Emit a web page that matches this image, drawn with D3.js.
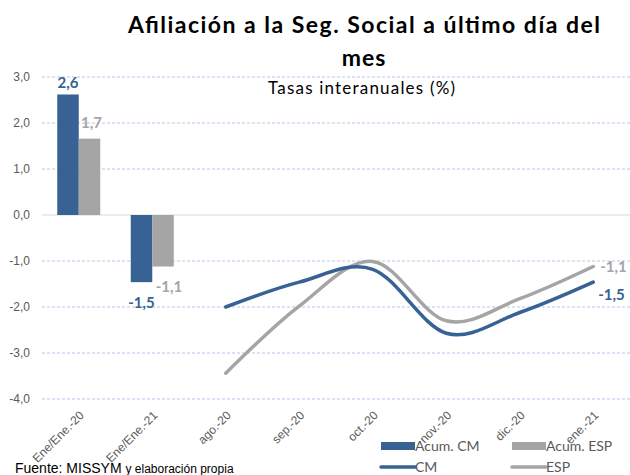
<!DOCTYPE html>
<html><head><meta charset="utf-8">
<script src="https://cdn.jsdelivr.net/npm/d3@7"></script>
<style>body{margin:0;background:#fff}svg{display:block}</style>
</head><body>
<svg id="c" width="630" height="475"></svg>
<script>
const categories = ["Ene/Ene.-20","Ene/Ene.-21","ago.-20","sep.-20","oct.-20","nov.-20","dic.-20","ene.-21"];
const barCats = ["Ene/Ene.-20","Ene/Ene.-21"];
const acumCM = [2.62, -1.46];
const acumESP = [1.66, -1.12];
const lineCats = ["ago.-20","sep.-20","oct.-20","nov.-20","dic.-20","ene.-21"];
const lineCM = [-2.0, -1.46, -1.18, -2.57, -2.12, -1.46];
const lineESP = [-3.44, -1.98, -1.01, -2.3, -1.82, -1.12];
const yTicks = [3,2,1,0,-1,-2,-3,-4];

const BLUE = "#386194", GRAY = "#a5a5a5", TXT = "#595959";
const svg = d3.select("#c");
const L = 42, R = 630, T = 77, B = 399;
const x = d3.scaleBand().domain(categories).range([L, R]);
const y = d3.scaleLinear().domain([-4, 3]).range([B, T]);
const fmt = v => d3.format(".1f")(v).replace(".", ",").replace("−","-");

// grid
svg.append("g").selectAll("line").data(yTicks.filter(d => d !== 0)).join("line")
  .attr("x1", L).attr("x2", R).attr("y1", d => y(d)).attr("y2", d => y(d))
  .attr("stroke", "#b4c7e7").attr("stroke-width", 1).attr("stroke-dasharray", "3,2");
svg.append("line").attr("x1", L).attr("x2", R).attr("y1", y(0)).attr("y2", y(0))
  .attr("stroke", "#d9d9d9").attr("stroke-width", 1);

// y axis labels
const yAxis = d3.axisLeft(y).tickValues(yTicks).tickSize(0).tickPadding(0).tickFormat(fmt);
const ga = svg.append("g").attr("transform", `translate(30,0)`).call(yAxis);
ga.select(".domain").remove();
ga.selectAll("text").attr("fill", TXT).attr("font-family", "Liberation Sans, Arial, sans-serif").attr("font-size", 12);

// x axis labels
const xAxis = d3.axisBottom(x).tickSize(0).tickPadding(0);
const gx = svg.append("g").attr("transform", `translate(0,${B})`).call(xAxis);
gx.select(".domain").remove();
gx.selectAll("text").attr("fill", TXT).attr("font-family", "Liberation Sans, Arial, sans-serif").attr("font-size", 12)
  .attr("text-anchor", "end").attr("dy", 0).attr("transform", "translate(6,17) rotate(-45)");

// bars
const bw = 21.5;
const xc = d => x(d) + x.bandwidth() / 2;
svg.append("g").selectAll("rect").data(acumCM).join("rect")
  .attr("x", (d, i) => xc(barCats[i]) - bw).attr("width", bw)
  .attr("y", d => y(Math.max(0, d))).attr("height", d => Math.abs(y(d) - y(0))).attr("fill", BLUE);
svg.append("g").selectAll("rect").data(acumESP).join("rect")
  .attr("x", (d, i) => xc(barCats[i])).attr("width", bw)
  .attr("y", d => y(Math.max(0, d))).attr("height", d => Math.abs(y(d) - y(0))).attr("fill", GRAY);

const lbl = (sel) => sel.attr("font-family", "Lato, 'Open Sans', sans-serif").attr("font-weight", "bold").attr("font-size", 15);
// bar labels
svg.append("g").selectAll("text").data(acumCM).join("text").call(lbl)
  .attr("x", (d, i) => xc(barCats[i]) - bw / 2).attr("y", d => d > 0 ? y(d) - 6 : y(d) + 26)
  .attr("text-anchor", "middle").attr("fill", BLUE).text(fmt);
svg.append("g").selectAll("text").data(acumESP).join("text").call(lbl)
  .attr("x", (d, i) => xc(barCats[i]) + bw / 2 + (d > 0 ? 2 : 6)).attr("y", d => d > 0 ? y(d) - 11 : y(d) + 25)
  .attr("text-anchor", "middle").attr("fill", GRAY).text(fmt);

// lines
const line = d3.line().x((d, i) => xc(lineCats[i])).y(d => y(d)).curve(d3.curveCardinal.tension(0));
svg.append("path").datum(lineESP).attr("d", line).attr("fill", "none").attr("stroke", GRAY).attr("stroke-width", 3.5).attr("stroke-linecap", "round");
svg.append("path").datum(lineCM).attr("d", line).attr("fill", "none").attr("stroke", BLUE).attr("stroke-width", 3.5).attr("stroke-linecap", "round");

const last = lineCats.length - 1;
svg.append("text").call(lbl).attr("x", xc(lineCats[last]) + 7).attr("y", y(lineESP[last]) + 5)
  .attr("fill", GRAY).text(fmt(lineESP[last]));
svg.append("text").call(lbl).attr("x", xc(lineCats[last]) + 5).attr("y", y(lineCM[last]) + 18)
  .attr("fill", BLUE).text(fmt(lineCM[last]));

// title
const tf = "Lato, 'Open Sans', sans-serif";
svg.append("text").attr("x", 128).attr("y", 33).attr("font-family", tf)
  .attr("font-weight", "bold").attr("font-size", 23).attr("fill", "#000")
  .attr("textLength", 472).attr("lengthAdjust", "spacing").text("Afiliación a la Seg. Social a último día del");
svg.append("text").attr("x", 364).attr("y", 66).attr("text-anchor", "middle").attr("font-family", tf)
  .attr("font-weight", "bold").attr("font-size", 23).attr("fill", "#000").attr("letter-spacing", 1).text("mes");
svg.append("text").attr("x", 268).attr("y", 94).attr("font-family", tf)
  .attr("font-size", 17).attr("fill", "#000").attr("textLength", 187).attr("lengthAdjust", "spacing").text("Tasas interanuales (%)");

// legend
const lg = svg.append("g").attr("font-family", tf).attr("font-size", 14).attr("fill", TXT);
const legItems = [
  {t: "Acum. CM", c: BLUE, type: "rect", x: 381, y: 446},
  {t: "Acum. ESP", c: GRAY, type: "rect", x: 512, y: 446},
  {t: "CM", c: BLUE, type: "line", x: 381, y: 467},
  {t: "ESP", c: GRAY, type: "line", x: 512, y: 467}
];
legItems.forEach(it => {
  if (it.type === "rect") lg.append("rect").attr("x", it.x).attr("y", it.y - 4).attr("width", 34).attr("height", 8).attr("fill", it.c);
  else lg.append("line").attr("x1", it.x).attr("x2", it.x + 34).attr("y1", it.y).attr("y2", it.y).attr("stroke", it.c).attr("stroke-width", 3.5).attr("stroke-linecap", "round");
  lg.append("text").attr("x", it.x + 34).attr("y", it.y + 5).attr("fill", TXT).text(it.t);
});

// source
const src = svg.append("text").attr("x", 15).attr("y", 473).attr("font-family", "Liberation Sans, Arial, sans-serif").attr("fill", "#000");
src.append("tspan").attr("font-size", 14).text("Fuente: MISSYM ");
src.append("tspan").attr("font-size", 12).text("y elaboración propia");
</script>
</body></html>
